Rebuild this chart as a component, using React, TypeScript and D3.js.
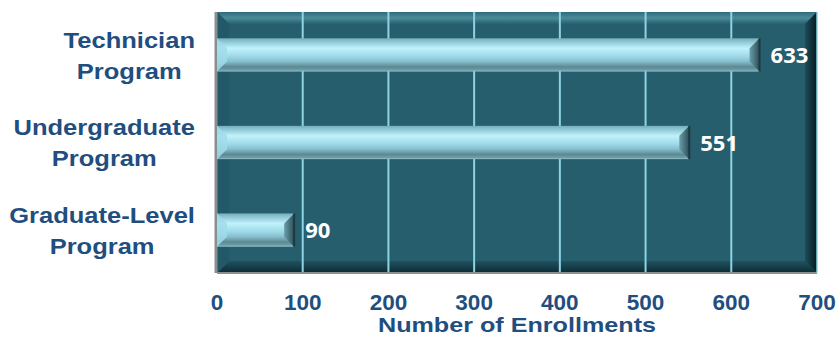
import React from "react";
import * as d3 from "d3";

const categories = ["Technician Program", "Undergraduate Program", "Graduate-Level Program"];
const labelLines = [["Technician", "Program"], ["Undergraduate", "Program"], ["Graduate-Level", "Program"]];
const values = [633, 551, 90];
const ticks = [0, 100, 200, 300, 400, 500, 600, 700];

const W = 839, H = 337;
const L = 217, R = 817, T = 12, B = 273;
const SX = 1.16;

let canvas: HTMLCanvasElement | null = null;
function measure(s: string, font: string): number {
  if (!canvas) canvas = document.createElement("canvas");
  const ctx = canvas.getContext("2d")!;
  ctx.font = font;
  return ctx.measureText(s).width;
}

export default function App() {
  const x = d3.scaleLinear().domain([0, 700]).range([L, R]);
  const y = d3.scaleBand().domain(categories).range([T, B]).paddingInner(0.62).paddingOuter(0.3);
  const bw = 12;
  const textColor = "#1f4e7f";
  const labelRight = 195;
  const catFont = "bold 22px Arial, 'Liberation Sans', sans-serif";
  return (
    <svg width={W} height={H} style={{ position: "absolute", left: 0, top: 0 }} fontFamily="Arial, 'Liberation Sans', sans-serif">
      <defs>
        <linearGradient id="barG" x1="0" y1="0" x2="0" y2="1">
          <stop offset="0" stopColor="#74aebd" />
          <stop offset="0.3" stopColor="#c0f3fb" />
          <stop offset="0.55" stopColor="#9ed8e6" />
          <stop offset="0.7" stopColor="#86bfcd" />
          <stop offset="0.86" stopColor="#5c8893" />
          <stop offset="0.95" stopColor="#6e9ca6" />
          <stop offset="1" stopColor="#8fc4d0" />
        </linearGradient>
        <linearGradient id="barEnd" x1="0" y1="0" x2="1" y2="0">
          <stop offset="0" stopColor="#6a9eab" />
          <stop offset="1" stopColor="#2c4d55" />
        </linearGradient>
        <linearGradient id="topBev" x1="0" y1="0" x2="0" y2="1">
          <stop offset="0" stopColor="#2f6c7b" />
          <stop offset="0.5" stopColor="#4a8b9a" />
          <stop offset="1" stopColor="#28606f" />
        </linearGradient>
        <linearGradient id="rightBev" x1="0" y1="0" x2="1" y2="0">
          <stop offset="0" stopColor="#1d4d59" />
          <stop offset="1" stopColor="#061a20" />
        </linearGradient>
        <linearGradient id="botBev" x1="0" y1="0" x2="0" y2="1">
          <stop offset="0" stopColor="#1f5260" />
          <stop offset="1" stopColor="#0c2a33" />
        </linearGradient>
      </defs>
      {/* plot background */}
      <rect x={L} y={T} width={R - L} height={B - T} fill="#265e6d" />
      <polygon points={`${L},${T} ${R},${T} ${R - bw},${T + bw} ${L + bw},${T + bw}`} fill="url(#topBev)" />
      <polygon points={`${R},${T} ${R},${B} ${R - bw},${B - bw} ${R - bw},${T + bw}`} fill="url(#rightBev)" />
      <polygon points={`${L},${B} ${R},${B} ${R - bw},${B - bw} ${L + bw},${B - bw}`} fill="url(#botBev)" />
      <polygon points={`${L},${T} ${L + bw},${T + bw} ${L + bw},${B - bw} ${L},${B}`} fill="#225867" />
      {/* gridlines */}
      {ticks.slice(1, -1).map(t => (
        <line key={t} x1={x(t)} x2={x(t)} y1={T} y2={B} stroke="#8fd3e3" strokeWidth={2} />
      ))}
      <line x1={L - 1} x2={L - 1} y1={T} y2={B} stroke="#8a8f92" strokeWidth={3} />
      <line x1={L} x2={R} y1={B} y2={B} stroke="#8a8f92" strokeWidth={2} />
      <line x1={R} x2={R} y1={T} y2={B} stroke="#8fd3e3" strokeWidth={1.5} />
      {/* bars */}
      {categories.map((c, i) => {
        const y0 = y(c)!, h = y.bandwidth(), x0 = x(0), x1 = x(values[i]);
        const e = 10;
        return (
          <g key={c}>
            <rect x={x0} y={y0} width={x1 - x0} height={h} fill="url(#barG)" />
            <polygon points={`${x1 - e},${y0 + e} ${x1},${y0} ${x1},${y0 + h} ${x1 - e},${y0 + h - e}`} fill="url(#barEnd)" />
            <polygon points={`${x0},${y0} ${x0 + e},${y0 + e} ${x0 + e},${y0 + h - e} ${x0},${y0 + h}`} fill="#9fdcea" opacity={0.85} />
            <rect x={x1 - 1} y={y0} width={2} height={h} fill="#1c3a42" />
            <text x={x1 + 11} y={y0 + h / 2 + 8} fill="#ffffff" fontSize={22} fontWeight="bold" fontFamily="'Open Sans', sans-serif">{values[i]}</text>
          </g>
        );
      })}
      {/* category labels: lines centred, block right-aligned */}
      {categories.map((c, i) => {
        const cy = y(c)! + y.bandwidth() / 2;
        const maxW = Math.max(...labelLines[i].map(l => measure(l, catFont))) * SX;
        const cx = labelRight - maxW / 2;
        return (
          <g key={c} transform={`translate(${cx},0) scale(${SX},1)`}>
            <text x={0} y={cy - 7} textAnchor="middle" fill={textColor} fontSize={22} fontWeight="bold">{labelLines[i][0]}</text>
            <text x={0} y={cy + 24} textAnchor="middle" fill={textColor} fontSize={22} fontWeight="bold">{labelLines[i][1]}</text>
          </g>
        );
      })}
      {/* tick labels */}
      {ticks.map(t => (
        <text key={t} x={x(t)} y={310} textAnchor="middle" fill={textColor} fontSize={22.5} fontWeight="bold">{t}</text>
      ))}
      <g transform={`translate(${(L + R) / 2},0) scale(1.29,1)`}>
        <text x={0} y={332.5} textAnchor="middle" fill={textColor} fontSize={19.5} fontWeight="bold">Number of Enrollments</text>
      </g>
    </svg>
  );
}
